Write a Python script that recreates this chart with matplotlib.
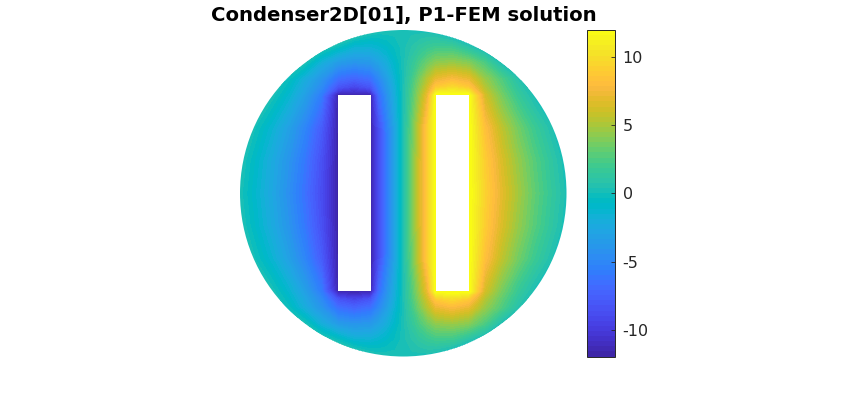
import numpy as np
import matplotlib
matplotlib.use('Agg')
import matplotlib.pyplot as plt
from matplotlib.colors import ListedColormap, BoundaryNorm
from matplotlib.patches import Circle, Rectangle
from matplotlib.cm import ScalarMappable

# parula, 64 entries
parula = [
    [.2422,.1504,.6603],[.2504,.1650,.7076],[.2578,.1818,.7511],[.2647,.1978,.7952],
    [.2706,.2147,.8364],[.2751,.2342,.8710],[.2783,.2559,.8991],[.2803,.2782,.9221],
    [.2813,.3006,.9414],[.2810,.3228,.9579],[.2795,.3447,.9717],[.2760,.3667,.9829],
    [.2699,.3892,.9906],[.2602,.4123,.9952],[.2440,.4358,.9988],[.2206,.4603,.9973],
    [.1963,.4847,.9892],[.1834,.5074,.9798],[.1786,.5289,.9682],[.1764,.5499,.9520],
    [.1687,.5703,.9359],[.1540,.5902,.9218],[.1460,.6091,.9079],[.1380,.6276,.8973],
    [.1248,.6459,.8883],[.1113,.6635,.8763],[.0952,.6798,.8598],[.0689,.6948,.8394],
    [.0297,.7082,.8163],[.0036,.7203,.7917],[.0067,.7312,.7660],[.0433,.7411,.7394],
    [.0964,.7500,.7120],[.1408,.7584,.6842],[.1717,.7670,.6554],[.1938,.7758,.6251],
    [.2161,.7843,.5923],[.2470,.7918,.5567],[.2906,.7973,.5188],[.3406,.8008,.4789],
    [.3909,.8029,.4354],[.4456,.8024,.3909],[.5044,.7993,.3480],[.5616,.7942,.3045],
    [.6174,.7876,.2612],[.6720,.7793,.2227],[.7242,.7698,.1910],[.7738,.7598,.1646],
    [.8203,.7498,.1535],[.8634,.7406,.1596],[.9035,.7330,.1774],[.9393,.7288,.2100],
    [.9728,.7298,.2394],[.9956,.7434,.2371],[.9970,.7659,.2199],[.9952,.7893,.2028],
    [.9892,.8136,.1885],[.9786,.8386,.1766],[.9676,.8639,.1643],[.9610,.8890,.1537],
    [.9597,.9135,.1423],[.9628,.9373,.1265],[.9691,.9606,.1064],[.9769,.9839,.0805]]

# solution, upper right quadrant (the rest is mirrored)
x_nodes = [0, .25, .5, .75, 1, 1.5, 2, 2.5, 3, 3.5, 4, 4.5, 5]
y_nodes = [0, 1, 2, 3, 3.25, 3.5, 4, 4.5, 5]
u_y0   = [0, 3.0, 6.0, 9.0, 12, 12, 12, 9.1, 6.7, 4.7, 2.9, 1.4, 0]
u_y1   = [0, 3.0, 6.0, 9.0, 12, 12, 12, 8.8, 6.3, 4.3, 2.6, 1.1, -.3]
u_y2   = [0, 2.9, 5.8, 8.9, 12, 12, 12, 8.0, 5.4, 3.4, 1.7, .3, -1]
u_y3   = [0, 2.2, 4.5, 7.0, 12, 12, 12, 6.0, 3.5, 1.5, 0, -1, -2]
u_y325 = [0, 2.0, 4.0, 6.0, 8.5, 9.5, 8.5, 5.0, 2.9, 1.0, -.5, -1.5, -2]
u_y35  = [0, 1.7, 3.5, 5.2, 6.8, 7.5, 6.8, 4.3, 2.4, .5, -1, -2, -3]
u_y4   = [0, 1.1, 2.2, 3.2, 4.0, 4.3, 3.8, 2.2, 0, -1, -2, -3, -4]
u_y45  = [0, .5, 1.0, 1.4, 1.7, 1.6, .4, -.8, -2, -3, -4, -5, -6]
u_y5   = [0, 0, -.1, -.15, -.45, -1.5, -2.5, -3.5, -4, -5, -6, -7, -8]
u_rim = 0.2  # the outer circle reads a little above zero on both sides

cbar_ticks = [-10, -5, 0, 5, 10]
cbar_labels = ['-10', '-5', '0', '5', '10']
clim = 11.95

x_half = np.array(x_nodes)
y_half = np.array(y_nodes)
u_half = np.array([u_y0, u_y1, u_y2, u_y3, u_y325, u_y35, u_y4, u_y45, u_y5], dtype=float)

x = np.concatenate((-x_half[:0:-1], x_half))
y = np.concatenate((-y_half[:0:-1], y_half))
u = np.hstack((-u_half[:, :0:-1], u_half))
u = np.vstack((u[:0:-1, :], u)) + u_rim

W, H = 864, 401
fig = plt.figure(figsize=(W/100, H/100), dpi=100)
ax = fig.add_axes([240/W, (H-356.5)/H, 326.5/W, 326.5/H])

cmap = ListedColormap(parula)
levels = np.linspace(-clim, clim, 65)
norm = BoundaryNorm(levels, 64)
cs = ax.contourf(x, y, u, levels=levels, cmap=cmap, norm=norm, extend='both', antialiased=False)
disk = Circle((0, 0), 5, transform=ax.transData)
cs.set_clip_path(disk)

ax.add_patch(Rectangle((-2, -3), 1, 6, fc='white', ec='none', zorder=5))
ax.add_patch(Rectangle((1, -3), 1, 6, fc='white', ec='none', zorder=5))

ax.set_xlim(-5, 5)
ax.set_ylim(-5, 5)
ax.axis('off')

fig.text(404/W, (H-15)/H, 'Condenser2D[01], P1-FEM solution', ha='center', va='center',
         fontsize=14.1, fontweight='bold', color='black')

cax = fig.add_axes([587/W, (H-356.5)/H, 28/W, 326.5/H])
sm = ScalarMappable(norm=plt.Normalize(-clim, clim), cmap=cmap)
cb = fig.colorbar(sm, cax=cax, ticks=cbar_ticks)
cb.ax.set_yticklabels(cbar_labels)
cb.ax.tick_params(direction='in', length=3, width=0.6, color='#262626', labelcolor='#262626',
                  labelsize=11.5, pad=5.5)
cb.outline.set_linewidth(0.7)
cb.outline.set_edgecolor('#262626')

fig.savefig('out.png', dpi=100)
